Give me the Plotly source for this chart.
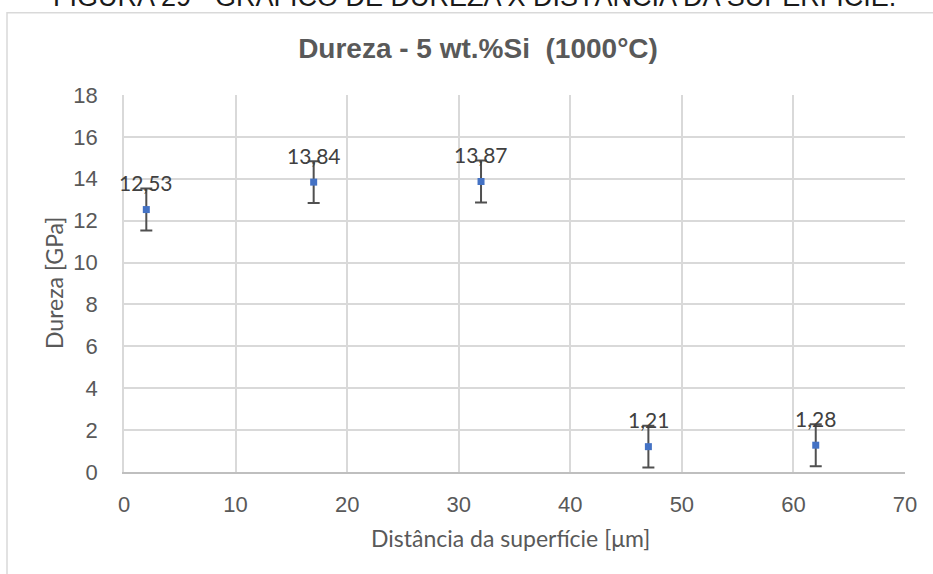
import plotly.graph_objects as go

distancia = [2, 17, 32, 47, 62]
dureza = [12.53, 13.84, 13.87, 1.21, 1.28]
erro = [1, 1, 1, 1, 1]
rotulos = ["12,53", "13,84", "13,87", "1,21", "1,28"]

W, H = 933, 574
L, R, T, B = 124, 28, 95, 102
pw, ph = W - L - R, H - T - B

def px(x):
    return (x - L) / pw

def py(y):
    return (H - B - y) / ph

fig = go.Figure()
fig.add_trace(go.Scatter(
    x=distancia, y=dureza, mode="markers",
    marker=dict(symbol="square", size=7, color="#4472C4"),
    error_y=dict(type="data", array=erro, visible=True, color="#505050", thickness=2, width=6),
    showlegend=False, hoverinfo="x+y",
))

for xv, yv, t in zip(distancia, dureza, rotulos):
    fig.add_annotation(x=xv, y=yv, text=t, showarrow=False, yshift=27,
                       xanchor="center", yanchor="middle",
                       font=dict(family="Lato", size=21, color="#404040"))

fig.add_annotation(xref="paper", yref="paper", x=px(474), y=py(-3), text="FIGURA 29 - GRÁFICO DE DUREZA X DISTÂNCIA DA SUPERFÍCIE.",
                   showarrow=False, xanchor="center", yanchor="middle",
                   font=dict(family="Liberation Sans", size=27, color="#1a1a1a"))

fig.add_annotation(xref="paper", yref="paper", x=px(510), y=py(538), text="Distância da superfície [μm]",
                   showarrow=False, xanchor="center", yanchor="middle",
                   font=dict(family="Lato", size=23, color="#595959"))
fig.add_annotation(xref="paper", yref="paper", x=px(54), y=py(283), text="Dureza [GPa]",
                   showarrow=False, xanchor="center", yanchor="middle", textangle=-90,
                   font=dict(family="Lato", size=23, color="#595959"))

fig.add_shape(type="rect", xref="paper", yref="paper", x0=px(7), x1=1.2, y0=-0.5, y1=py(12.7),
              line=dict(color="#d9d9d9", width=1.5), layer="below")

fig.update_layout(
    width=W, height=H,
    margin=dict(l=L, r=R, t=T, b=B, autoexpand=False),
    paper_bgcolor="white", plot_bgcolor="white",
    title=dict(text="<b>Dureza - 5 wt.%Si \u00a0(1000°C)</b>", x=478 / W, xanchor="center",
               y=1 - 48 / H, yanchor="middle",
               font=dict(family="Liberation Sans", size=28, color="#595959")),
    xaxis=dict(range=[0, 70], dtick=10, tick0=0, showgrid=True, gridcolor="#d9d9d9", gridwidth=1.5,
               showline=True, linecolor="#bfbfbf", linewidth=2, zeroline=False, automargin=False,
               ticks="", ticklabelstandoff=12,
               tickfont=dict(family="Liberation Sans", size=22, color="#595959")),
    yaxis=dict(range=[0, 18], dtick=2, tick0=0, showgrid=True, gridcolor="#d9d9d9", gridwidth=1.5,
               showline=True, linecolor="#d9d9d9", linewidth=1.5, zeroline=False, automargin=False,
               ticks="", ticklabelstandoff=20,
               tickfont=dict(family="Liberation Sans", size=22, color="#595959")),
)

fig.write_html("out.html", config={"displayModeBar": False},
               post_script="document.body.style.margin='0';")
